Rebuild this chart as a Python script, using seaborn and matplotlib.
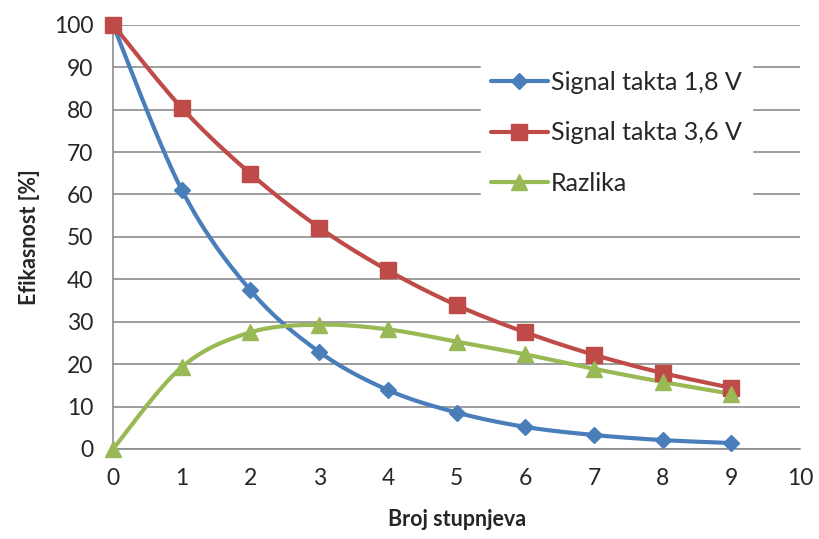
import numpy as np
import pandas as pd
import matplotlib
matplotlib.use("Agg")
import matplotlib.pyplot as plt
import seaborn as sns
from matplotlib.lines import Line2D

stupnjevi = [0, 1, 2, 3, 4, 5, 6, 7, 8, 9]
takt_18 = [100, 61.1, 37.4, 22.9, 13.9, 8.6, 5.2, 3.3, 2.1, 1.4]
takt_36 = [100, 80.4, 64.9, 52.2, 42.1, 33.9, 27.5, 22.2, 17.9, 14.4]
razlika = [0, 19.3, 27.5, 29.3, 28.2, 25.3, 22.3, 18.9, 15.8, 13.0]

names = ["Signal takta 1,8 V", "Signal takta 3,6 V", "Razlika"]
colors = ["#4A7EBB", "#BE4B48", "#98B954"]
markers = ["D", "s", "^"]
msizes = [8, 11, 11]

sns.set_style("white")
plt.rcParams["font.family"] = ["Lato", "DejaVu Sans"]


def smooth(x, y, n=30):
    # Excel-like smoothed line: cubic Bezier through points (Catmull-Rom)
    x = np.asarray(x, float)
    y = np.asarray(y, float)
    px = np.concatenate([[x[0]], x, [x[-1]]])
    py = np.concatenate([[y[0]], y, [y[-1]]])
    xs, ys = [], []
    t = np.linspace(0, 1, n)
    for i in range(1, len(px) - 2):
        p0 = np.array([px[i], py[i]])
        p3 = np.array([px[i + 1], py[i + 1]])
        c1 = p0 + (np.array([px[i + 1], py[i + 1]]) - np.array([px[i - 1], py[i - 1]])) / 6
        c2 = p3 - (np.array([px[i + 2], py[i + 2]]) - np.array([px[i], py[i]])) / 6
        b = (np.outer((1 - t) ** 3, p0) + np.outer(3 * (1 - t) ** 2 * t, c1)
             + np.outer(3 * (1 - t) * t ** 2, c2) + np.outer(t ** 3, p3))
        xs.extend(b[:, 0])
        ys.extend(b[:, 1])
    return xs, ys


fig = plt.figure(figsize=(8.19, 5.39), dpi=100)
ax = fig.add_axes([0.138, 0.167, 0.839, 0.787])

handles = []
for vals, name, c, m, ms in zip([takt_18, takt_36, razlika], names, colors, markers, msizes):
    sx, sy = smooth(stupnjevi, vals)
    sns.lineplot(x=sx, y=sy, ax=ax, color=c, linewidth=3, sort=False, estimator=None)
    ax.plot(stupnjevi, vals, linestyle="none", marker=m, markersize=ms, color=c,
            markeredgecolor=c, zorder=5, clip_on=False)
    handles.append(Line2D([0], [0], color=c, linewidth=3, marker=m, markersize=ms,
                          markeredgecolor=c))

ax.set_xlim(0, 10)
ax.set_ylim(0, 100)
ax.set_xticks(range(0, 11))
ax.set_yticks(range(0, 101, 10))
ax.yaxis.grid(True, color="#8c8c8c", linewidth=1.2)
ax.set_axisbelow(True)
for s in ["top", "right"]:
    ax.spines[s].set_visible(False)
for s in ["left", "bottom"]:
    ax.spines[s].set_color("#8c8c8c")
    ax.spines[s].set_linewidth(1.2)
ax.tick_params(axis="x", direction="out", length=6, width=1.2, color="#8c8c8c",
               labelsize=16.5, pad=8)
ax.tick_params(axis="y", direction="out", length=6, width=1.2, color="#8c8c8c",
               labelsize=16.5, pad=8)

ax.set_xlabel("Broj stupnjeva", fontsize=15.5, fontweight="bold", labelpad=14)
ax.set_ylabel("Efikasnost [%]", fontsize=15.5, fontweight="bold", labelpad=10)

leg = ax.legend(handles, names, loc="upper left", bbox_to_anchor=(0.535, 0.915),
                frameon=True, fontsize=18, handlelength=2.3, handletextpad=0.1,
                labelspacing=1.1, borderpad=0.4, borderaxespad=0,
                facecolor="white", edgecolor="white",
                framealpha=1, fancybox=False)
leg.set_zorder(10)

fig.savefig("out.png", dpi=100)
